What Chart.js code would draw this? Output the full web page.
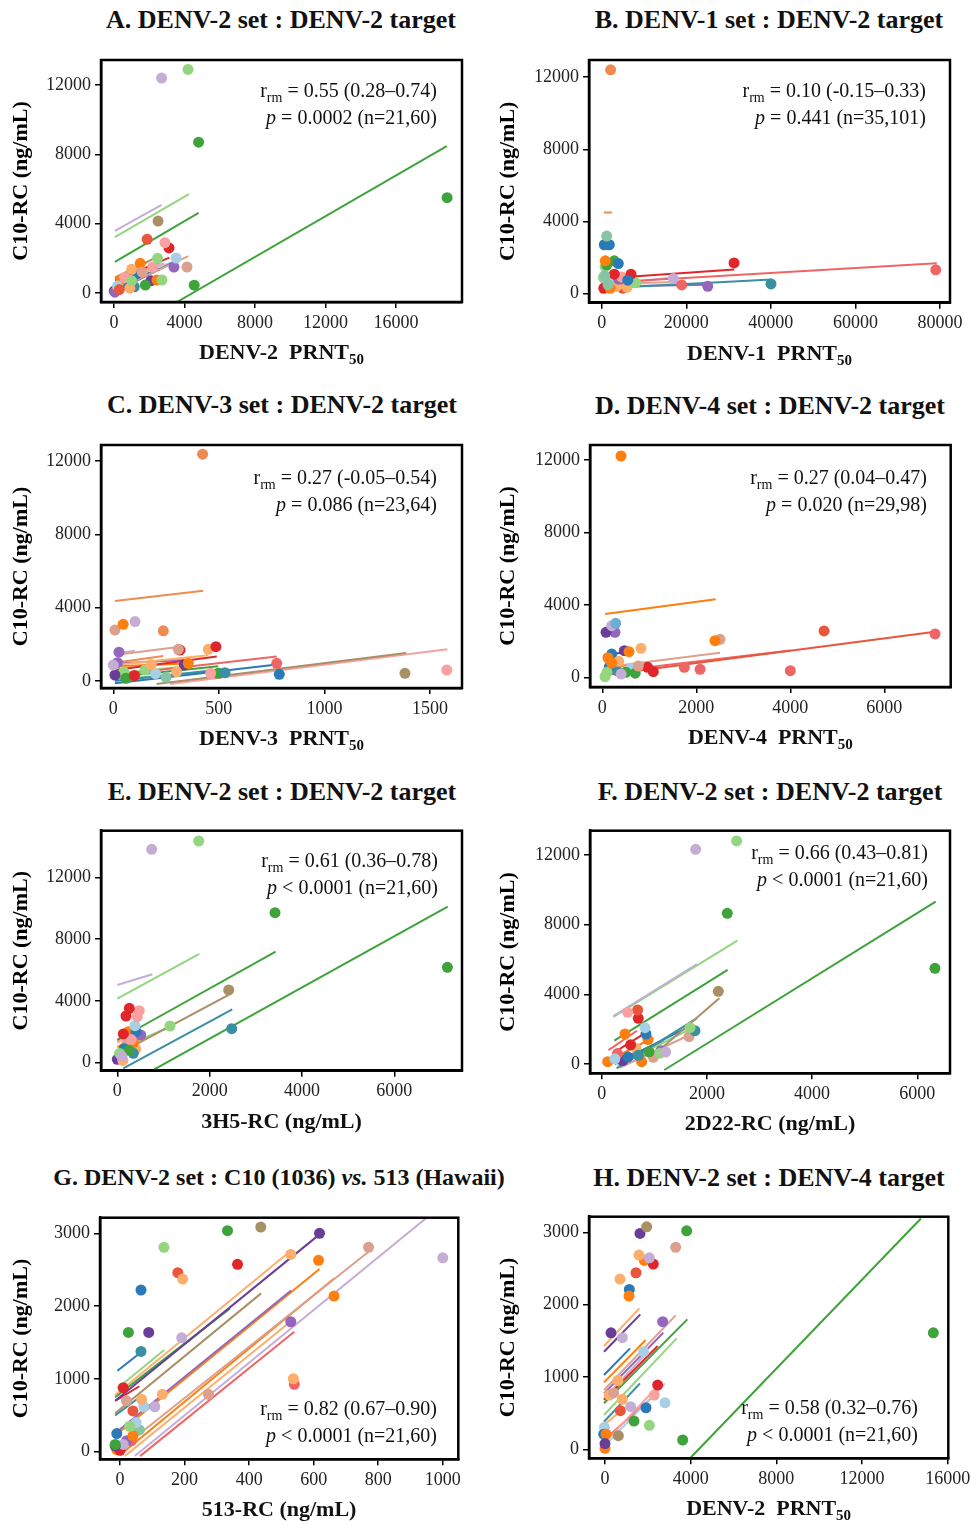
<!DOCTYPE html>
<html>
<head>
<meta charset="utf-8">
<script src="https://cdn.jsdelivr.net/npm/chart.js"></script>
<style>
    body { margin: 0; background: #fff; }
    #fig { position: relative; width: 971px; height: 1524px; background: #fff; font-family: "Liberation Serif", "Times New Roman", serif; color: #111; }
    .ttl { position: absolute; width: 600px; text-align: center; font-weight: bold; font-size: 26px; line-height: 30px; white-space: nowrap; }
    .ttl.small { font-size: 24px; }
    .xt { position: absolute; width: 400px; text-align: center; font-weight: bold; font-size: 22px; line-height: 26px; white-space: nowrap; }
    .xt sub { font-size: 15px; line-height: 0; vertical-align: -5px; }
    .ann { position: absolute; text-align: right; font-size: 20px; line-height: 27px; white-space: nowrap; }
    .ann sub { font-size: 14px; line-height: 0; vertical-align: -5px; }
    canvas { position: absolute; }
</style>
</head>
<body>
<div id="fig"></div>
<script>
    // values: points are [x, y, subject colour], lines are [x1, y1, x2, y2, subject colour]
    const ptsA = [[2700,12400,'lav'],[4200,12900,'lgreen'],[4800,8700,'green'],[18900,5500,'green'],[4550,450,'green'],[2500,4150,'brown'],[1880,3100,'rorange'],[2890,2900,'pink'],[3120,2600,'red'],[3520,2020,'lblue'],[4140,1500,'rosy'],[3400,1500,'purple'],[2470,2000,'lgreen'],[1490,1710,'orange'],[1000,1370,'lorange'],[2720,750,'lgreen'],[2440,750,'orange'],[2100,710,'dpurple'],[1780,460,'green'],[1150,360,'teal'],[20,115,'dpurple'],[775,520,'blue'],[400,750,'orange'],[900,280,'lorange'],[600,900,'pink'],[1300,1100,'blue'],[200,400,'lblue'],[1600,1200,'rosy'],[2200,1500,'pink'],[1000,700,'lgreen'],[300,200,'rorange'],[50,50,'purple']];
    const linesA = [[50,3580,2700,5080,'lav'],[50,3230,4250,5710,'lgreen'],[50,1790,4800,4620,'green'],[3570,-520,18880,8480,'green'],[57,850,2470,2100,'brown'],[57,710,3140,2040,'red'],[57,900,1910,1800,'orange'],[57,170,4220,2130,'rosy'],[57,75,3420,1800,'dpurple'],[57,270,2660,1420,'blue'],[57,790,2850,1710,'pink'],[57,500,2700,1800,'lgreen'],[57,400,2400,1500,'lorange'],[57,600,3500,1850,'lblue'],[57,300,2000,1200,'teal']];

    const ptsB = [[2100,12400,'corange'],[1180,3190,'mint'],[620,2710,'blue'],[1800,2710,'blue'],[850,1820,'orange'],[2980,1820,'green'],[3930,1670,'blue'],[31300,1700,'red'],[79000,1320,'coral'],[2980,1080,'red'],[6930,1080,'red'],[4730,930,'pink'],[16930,834,'lav'],[6150,745,'blue'],[18920,484,'coral'],[25070,411,'purple'],[40040,540,'teal'],[7000,700,'lgreen'],[800,1500,'lgreen'],[400,900,'lgreen'],[1000,600,'lav'],[2000,300,'orange'],[500,300,'red'],[3500,400,'lorange'],[5000,300,'rorange'],[6000,350,'lorange'],[1500,500,'mint'],[3000,700,'lblue'],[2500,900,'rosy'],[8000,600,'lgreen'],[4000,800,'purple'],[1200,1600,'green'],[700,1000,'mint']];
    const linesB = [[500,4500,2400,4500,'corange'],[540,834,31360,1335,'red'],[540,610,79230,1690,'coral'],[540,300,40200,780,'teal'],[540,400,25070,500,'purple'],[540,510,16930,900,'lav'],[540,1540,3900,1630,'green'],[540,350,6000,450,'dpurple'],[540,700,7000,800,'pink'],[540,550,19000,650,'rosy']];

    const ptsC = [[423,12370,'corange'],[47,3090,'orange'],[103,3240,'lav'],[8,2780,'rosy'],[237,2740,'corange'],[486,1870,'red'],[450,1730,'lorange'],[308,1730,'rosy'],[316,1690,'red'],[27,1570,'purple'],[774,966,'coral'],[786,365,'blue'],[1381,420,'brown'],[1579,600,'pink'],[336,873,'dpurple'],[355,966,'orange'],[529,453,'teal'],[497,420,'green'],[461,420,'pink'],[8,327,'dpurple'],[0,870,'lav'],[50,500,'lgreen'],[150,600,'lgreen'],[200,400,'lblue'],[100,300,'red'],[250,200,'mint'],[300,500,'lorange'],[60,150,'green'],[180,900,'lorange'],[20,1000,'purple']];
    const linesC = [[8,4364,426,4926,'corange'],[8,1420,316,1870,'rosy'],[8,1500,103,1650,'lav'],[8,1000,237,1360,'corange'],[8,873,450,1400,'lorange'],[8,600,490,1330,'red'],[8,327,774,1330,'coral'],[8,-127,786,910,'blue'],[205,-164,1386,1527,'brown'],[269,-164,1582,1730,'pink'],[8,218,497,800,'green'],[8,0,529,650,'teal'],[8,960,336,1140,'purple'],[8,800,355,960,'orange'],[8,400,300,750,'lgreen'],[8,100,460,500,'mint']];

    const ptsD = [[398,12220,'orange'],[285,3000,'sky'],[200,2870,'lav'],[79,2500,'dpurple'],[270,2500,'purple'],[2398,2040,'orange'],[2505,2115,'rosy'],[4718,2575,'rorange'],[7080,2410,'coral'],[4000,386,'coral'],[2080,463,'coral'],[1745,573,'coral'],[966,573,'red'],[1085,331,'red'],[823,1620,'lorange'],[568,1433,'orange'],[468,1488,'dpurple'],[766,645,'rosy'],[57,55,'lgreen'],[150,600,'blue'],[200,800,'orange'],[300,400,'teal'],[400,200,'lav'],[500,300,'green'],[600,500,'lblue'],[100,300,'lgreen'],[250,700,'mint'],[700,250,'green'],[350,900,'lorange'],[120,1100,'orange'],[200,1300,'blue']];
    const linesD = [[57,3511,2413,4321,'orange'],[57,1250,553,1433,'dpurple'],[57,573,2505,1378,'rosy'],[57,150,7080,2535,'rorange'],[57,300,4000,1500,'coral'],[57,330,1000,600,'green'],[57,500,700,750,'orange'],[57,400,800,650,'lblue']];

    const ptsE = [[745,13820,'lav'],[1763,14357,'lgreen'],[3416,9714,'green'],[7150,6180,'green'],[2413,4708,'brown'],[2478,2200,'teal'],[1141,2377,'lgreen'],[260,3520,'red'],[476,3370,'pink'],[188,3025,'red'],[433,2980,'pink'],[383,2397,'lblue'],[405,2010,'blue'],[507,1795,'purple'],[130,1860,'red'],[238,2010,'orange'],[347,610,'teal'],[400,880,'lorange'],[0,220,'dpurple'],[120,150,'lorange'],[200,1200,'rosy'],[300,1500,'pink'],[150,900,'blue'],[50,600,'lgreen'],[350,1300,'orange'],[100,400,'lav'],[250,800,'green']];
    const linesE = [[0,5030,760,5725,'lav'],[0,4145,1777,7040,'lgreen'],[0,1470,3430,7190,'green'],[0,544,2413,4385,'brown'],[0,830,1141,2330,'lgreen'],[130,-363,2490,3457,'teal'],[800,-430,7157,10100,'green'],[0,1470,270,2000,'red'],[0,1000,440,1900,'orange'],[0,700,510,1650,'purple'],[0,500,420,1400,'blue'],[0,1300,430,2100,'pink'],[0,300,400,1000,'dpurple']];

    const ptsF = [[1787,12328,'lav'],[2566,12805,'lgreen'],[2388,8653,'green'],[6336,5495,'green'],[2217,4174,'brown'],[494,2969,'pink'],[684,3100,'rorange'],[696,2624,'red'],[823,2085,'lblue'],[842,1722,'blue'],[1774,1912,'teal'],[1660,1568,'rosy'],[1680,2085,'lgreen'],[1127,764,'purple'],[1217,689,'lav'],[981,385,'rosy'],[760,132,'orange'],[114,132,'orange'],[1108,620,'lgreen'],[443,1722,'orange'],[880,1400,'orange'],[300,600,'coral'],[500,400,'blue'],[650,900,'lorange'],[400,200,'dpurple'],[700,500,'teal'],[550,1100,'red'],[250,300,'lblue'],[900,700,'green']];
    const linesF = [[221,2756,1812,5742,'lav'],[221,2700,2578,7080,'lgreen'],[240,1340,2395,5400,'green'],[1000,550,2236,3772,'brown'],[285,-247,1806,2624,'teal'],[1190,-344,6350,9320,'green'],[130,800,670,1910,'coral'],[200,600,840,1800,'red'],[200,300,900,1400,'orange'],[250,0,1700,2200,'blue'],[300,-100,1680,2000,'lgreen'],[350,-200,1660,1650,'rosy'],[200,100,1200,1300,'purple'],[250,400,1000,1500,'lblue']];

    const ptsG = [[333,3037,'green'],[436,3088,'brown'],[618,3001,'dpurple'],[136,2809,'lgreen'],[770,2809,'rosy'],[1000,2665,'lav'],[364,2575,'red'],[615,2630,'orange'],[529,2712,'lorange'],[179,2460,'rorange'],[194,2373,'lorange'],[65,2222,'blue'],[663,2139,'orange'],[529,1786,'purple'],[26,1640,'green'],[89,1640,'dpurple'],[191,1566,'lav'],[65,1379,'teal'],[537,1003,'lorange'],[540,926,'coral'],[274,789,'rosy'],[131,789,'lorange'],[67,720,'lorange'],[108,618,'lav'],[74,618,'lblue'],[40,560,'rorange'],[20,700,'rosy'],[10,880,'red'],[50,400,'lblue'],[30,350,'lgreen'],[-10,250,'blue'],[40,220,'orange'],[-15,100,'green'],[-15,80,'dpurple'],[-10,30,'orange'],[0,20,'red'],[20,150,'purple'],[35,150,'coral'],[10,100,'lav'],[60,300,'mint']];
    const linesG = [[-8,1113,67,1374,'blue'],[-8,871,137,1397,'lgreen'],[-15,779,532,2771,'lorange'],[-15,700,618,2987,'dpurple'],[-15,750,341,1970,'green'],[-15,528,437,2176,'brown'],[-15,253,530,2216,'purple'],[-15,220,618,2510,'orange'],[-15,-22,770,2748,'rosy'],[0,-45,664,2383,'orange'],[15,-60,537,1820,'lorange'],[46,-60,950,3216,'lav'],[62,-60,540,1649,'coral'],[-15,700,60,900,'red'],[-15,500,70,780,'teal']];

    const ptsH = [[1946,3076,'brown'],[1634,2985,'dpurple'],[3813,3021,'green'],[3300,2792,'rosy'],[1587,2685,'lorange'],[2070,2648,'lav'],[1836,2612,'orange'],[2256,2561,'red'],[1447,2441,'rorange'],[700,2354,'lorange'],[1136,2211,'blue'],[1120,2119,'orange'],[15330,1611,'green'],[280,1611,'dpurple'],[809,1543,'lav'],[2693,1764,'purple'],[2460,889,'red'],[2801,644,'lblue'],[1914,575,'blue'],[809,691,'lorange'],[1198,589,'lav'],[716,534,'rorange'],[1354,391,'green'],[2070,332,'lgreen'],[3627,129,'green'],[623,188,'brown'],[-30,304,'lblue'],[-60,210,'blue'],[0,14,'orange'],[0,80,'dpurple'],[50,210,'orange'],[200,750,'lorange'],[400,780,'rosy'],[600,950,'lorange'],[2300,750,'pink'],[1800,1350,'lblue']];
    const linesH = [[-47,1428,1603,1949,'lorange'],[-47,1349,1650,1866,'dpurple'],[-47,1027,1167,1396,'blue'],[-47,926,1900,1511,'orange'],[-47,820,3300,1852,'rosy'],[-47,774,2722,1611,'purple'],[-47,681,2460,1428,'red'],[-47,636,3843,1797,'green'],[-47,474,3347,1534,'lgreen'],[-47,382,1634,912,'teal'],[-47,336,934,580,'lorange'],[-47,83,2442,865,'pink'],[-47,37,2801,912,'lblue'],[-47,129,2334,750,'coral'],[4015,-110,14750,3192,'green'],[-47,700,2000,1350,'lav']];

    // axis ticks and ranges [xmin, xmax, ymin, ymax]
    const xTicks = [
        [0,4000,8000,12000,16000], [0,20000,40000,60000,80000], [0,500,1000,1500], [0,2000,4000,6000],
        [0,2000,4000,6000], [0,2000,4000,6000], [0,200,400,600,800,1000], [0,4000,8000,12000,16000]
    ];
    const yTicksBig = [0,4000,8000,12000];
    const yTicksSmall = [0,1000,2000,3000];
    const ranges = [
        [-738,19745,-519,13442], [-3003,82365,-500,12944], [-58,1651,-382,12873], [-262,7413,-513,12827],
        [-353,7466,-518,15024], [-222,6622,-534,13395], [-62,1048,-104,3216], [-747,16028,-124,3216]
    ];

    const titles = [
        'A. DENV-2 set : DENV-2 target', 'B. DENV-1 set : DENV-2 target',
        'C. DENV-3 set : DENV-2 target', 'D. DENV-4 set : DENV-2 target',
        'E. DENV-2 set : DENV-2 target', 'F. DENV-2 set : DENV-2 target',
        'G. DENV-2 set : C10 (1036) <i>vs.</i> 513 (Hawaii)', 'H. DENV-2 set : DENV-4 target'
    ];
    const xTitles = [
        'DENV-2&nbsp; PRNT<sub>50</sub>', 'DENV-1&nbsp; PRNT<sub>50</sub>', 'DENV-3&nbsp; PRNT<sub>50</sub>', 'DENV-4&nbsp; PRNT<sub>50</sub>',
        '3H5-RC (ng/mL)', '2D22-RC (ng/mL)', '513-RC (ng/mL)', 'DENV-2&nbsp; PRNT<sub>50</sub>'
    ];
    const rStats = ['0.55 (0.28–0.74)', '0.10 (-0.15–0.33)', '0.27 (-0.05–0.54)', '0.27 (0.04–0.47)', '0.61 (0.36–0.78)', '0.66 (0.43–0.81)', '0.82 (0.67–0.90)', '0.58 (0.32–0.76)'];
    const pStats = ['= 0.0002 (n=21,60)', '= 0.441 (n=35,101)', '= 0.086 (n=23,64)', '= 0.020 (n=29,98)', '&lt; 0.0001 (n=21,60)', '&lt; 0.0001 (n=21,60)', '&lt; 0.0001 (n=21,60)', '&lt; 0.0001 (n=21,60)'];

    const allPts = [ptsA, ptsB, ptsC, ptsD, ptsE, ptsF, ptsG, ptsH];
    const allLines = [linesA, linesB, linesC, linesD, linesE, linesF, linesG, linesH];

    const palette = {
        blue: '#2a7ab8', lblue: '#a9cfe6', sky: '#6aaed6', teal: '#3a8fa3', mint: '#86c4a4',
        orange: '#ff7f0e', corange: '#ef8a50', lorange: '#fdae6b',
        green: '#3ea33a', lgreen: '#93d67f',
        red: '#e0262a', rorange: '#e8563c', coral: '#ef6565', pink: '#f9a0a0', rosy: '#dca08e',
        purple: '#9467bd', dpurple: '#6a3d9a', lav: '#c4aed6', brown: '#a89064'
    };

    // layout: plot box [left, top, right, bottom], title centre, annotation right edge / first line centre
    const boxes = [
        [101,60,462,302], [589,60,950,302.7], [101,445,462,688], [590,445,950.7,687],
        [101,830.7,462,1070.7], [590,830.7,950,1073.3], [100,1217.7,458.3,1459.3], [589,1216.7,948.3,1458.3]
    ];
    const titlePos = [[281,20],[769,20],[282,405],[770,406],[282,792],[770,792],[279,1177],[769,1178]];
    const annPos = [[437,90],[926,90],[437,477],[927,477],[438,860],[928,852],[437,1408],[918,1407]];

    Chart.defaults.font.family = '"Liberation Serif", "Times New Roman", serif';
    Chart.defaults.font.size = 18;
    Chart.defaults.color = '#222';

    const fig = document.getElementById('fig');

    const boxPlugin = {
        id: 'box',
        afterDraw(chart) {
            const a = chart.chartArea;
            const ctx = chart.ctx;
            ctx.save();
            ctx.strokeStyle = '#000';
            ctx.lineWidth = 2.5;
            ctx.strokeRect(a.left, a.top, a.right - a.left, a.bottom - a.top);
            ctx.restore();
        }
    };

    function makePanel(i) {
        const b = boxes[i];
        const colLeft = b[0] < 400 ? 0 : 487;
        const cw = colLeft === 0 ? 485 : 484;
        const ct = Math.round(b[1] - 16);
        const ch = Math.round(b[3] + 44) - ct;

        const cv = document.createElement('canvas');
        cv.width = cw; cv.height = ch;
        cv.style.left = colLeft + 'px';
        cv.style.top = ct + 'px';
        fig.appendChild(cv);

        const datasets = [];
        allLines[i].forEach(l => {
            datasets.push({
                data: [{x: l[0], y: l[1]}, {x: l[2], y: l[3]}],
                showLine: true,
                borderColor: palette[l[4]],
                borderWidth: 2,
                pointRadius: 0,
                order: 2
            });
        });
        const groups = {};
        allPts[i].forEach(p => {
            (groups[p[2]] = groups[p[2]] || []).push({x: p[0], y: p[1]});
        });
        Object.keys(groups).forEach(k => {
            datasets.push({
                data: groups[k],
                backgroundColor: palette[k],
                borderWidth: 0,
                pointRadius: 5.5,
                order: 1,
                clip: 6
            });
        });

        const r = ranges[i];
        const yt = i >= 6 ? yTicksSmall : yTicksBig;
        new Chart(cv, {
            type: 'scatter',
            data: {datasets: datasets},
            options: {
                responsive: false,
                animation: false,
                events: [],
                layout: {padding: {top: b[1] - ct, right: colLeft + cw - b[2], left: 0, bottom: 0}},
                plugins: {legend: {display: false}, tooltip: {enabled: false}},
                scales: {
                    x: {
                        type: 'linear', min: r[0], max: r[1],
                        grid: {display: true, drawOnChartArea: false, drawTicks: true, tickLength: 6, color: '#000', lineWidth: 1.5},
                        border: {display: true, color: '#000', width: 2.5},
                        ticks: {padding: 4, color: '#222', callback: v => v, maxRotation: 0, autoSkip: false},
                        afterBuildTicks: s => { s.ticks = xTicks[i].map(v => ({value: v})); },
                        afterFit: s => { s.height = ct + ch - b[3]; s.paddingLeft = 0; s.paddingRight = 0; }
                    },
                    y: {
                        type: 'linear', min: r[2], max: r[3],
                        grid: {display: true, drawOnChartArea: false, drawTicks: true, tickLength: 6, color: '#000', lineWidth: 1.5},
                        border: {display: true, color: '#000', width: 2.5},
                        ticks: {padding: 4, color: '#222', callback: v => v, autoSkip: false},
                        title: {display: true, text: 'C10-RC (ng/mL)', color: '#000', font: {size: 22, weight: 'bold'}, padding: {top: 8, bottom: 0}},
                        afterBuildTicks: s => { s.ticks = yt.map(v => ({value: v})); },
                        afterFit: s => { s.width = b[0] - colLeft; s.paddingTop = 0; s.paddingBottom = 0; }
                    }
                }
            },
            plugins: [boxPlugin]
        });

        const t = document.createElement('div');
        t.className = i === 6 ? 'ttl small' : 'ttl';
        t.innerHTML = titles[i];
        t.style.left = (titlePos[i][0] - 300) + 'px';
        t.style.top = (titlePos[i][1] - 15) + 'px';
        fig.appendChild(t);

        const xt = document.createElement('div');
        xt.className = 'xt';
        xt.innerHTML = xTitles[i];
        xt.style.left = ((b[0] + b[2]) / 2 - 200) + 'px';
        xt.style.top = (b[3] + 50 - 13) + 'px';
        fig.appendChild(xt);

        const an = document.createElement('div');
        an.className = 'ann';
        an.innerHTML = 'r<sub>rm</sub> = ' + rStats[i] + '<br><i>p</i> ' + pStats[i];
        an.style.right = (971 - annPos[i][0]) + 'px';
        an.style.top = (annPos[i][1] - 13.5) + 'px';
        fig.appendChild(an);
    }

    for (let i = 0; i < 8; i++) makePanel(i);
</script>
</body>
</html>
